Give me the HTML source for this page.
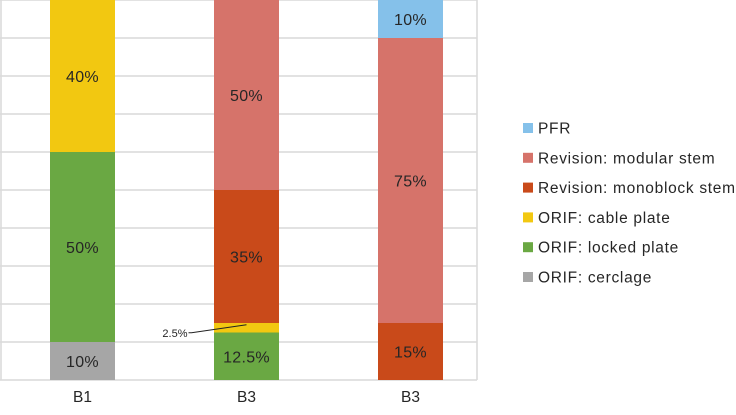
<!DOCTYPE html>
<html><head><meta charset="utf-8"><style>
body{margin:0;background:#fff;font-family:"Liberation Sans",Arial,sans-serif}
</style></head><body>
<svg id="chart" width="736" height="410" font-family="Liberation Sans, Arial, sans-serif"></svg>
<script>
const categories=["B1","B3","B3"];
const seriesNames=["ORIF: cerclage","ORIF: locked plate","ORIF: cable plate","Revision: monoblock stem","Revision: modular stem","PFR"];
const seriesColors=["#a6a6a6","#6aa843","#f2c811","#c94a1a","#d6736a","#85c1ea"];
const cerclage=[10,0,0];
const locked=[50,12.5,0];
const cable=[40,2.5,0];
const monoblock=[0,35,15];
const modular=[0,50,75];
const pfr=[0,0,10];
const series=[cerclage,locked,cable,monoblock,modular,pfr];
const NS="http://www.w3.org/2000/svg";
const svg=document.getElementById('chart');
const x0=0,x1=477,yTop=0,yBase=380;
const y=v=>yBase-(v/100)*(yBase-yTop);
const barW=65;
const cx=i=>82.5+164*i;
function mk(t,a){const e=document.createElementNS(NS,t);for(const k in a)e.setAttribute(k,a[k]);svg.appendChild(e);return e;}
for(let t=0;t<=100;t+=10){const g=mk('line',{x1:x0,x2:x1,y1:y(t),y2:y(t),stroke:'#d9d9d9','stroke-width':1.5});

}
const la=mk('line',{x1:1,x2:1,y1:0,y2:380,stroke:'#d9d9d9','stroke-width':1.5});

const ra=mk('line',{x1:x1,x2:x1,y1:0,y2:380,stroke:'#d9d9d9','stroke-width':1.5});

categories.forEach((c,i)=>{
 let acc=0;
 series.forEach((s,k)=>{
  const v=s[i]; if(!v)return;
  const r=mk('rect',{x:cx(i)-barW/2,y:y(acc+v),width:barW,height:y(acc)-y(acc+v),fill:seriesColors[k]});
  
  
  const mid=(y(acc)+y(acc+v))/2;
  if(v>=5){const t=mk('text',{x:cx(i),y:mid+6,'text-anchor':'middle','font-size':16,'letter-spacing':0.3,fill:'#262626'});t.textContent=v+'%';
   }
  else{const l=mk('polyline',{points:`${cx(i)} ${mid-3} ${cx(i)-55} ${mid+5} ${cx(i)-58} ${mid+5}`,fill:'none',stroke:'#222','stroke-width':1});
   
   const t=mk('text',{x:cx(i)-59,y:mid+9,'text-anchor':'end','font-size':11,fill:'#262626'});t.textContent=v+'%';
   }
  acc+=v;
 });
 const xl=mk('text',{x:cx(i),y:402,'text-anchor':'middle','font-size':15.5,fill:'#262626'});xl.textContent=c;
 
});
for(let k=seriesNames.length-1,row=0;k>=0;k--,row++){
 const yy=128+row*29.8;
 const sq=mk('rect',{x:523,y:yy-5,width:10,height:10,fill:seriesColors[k]});
 
 const t=mk('text',{x:538,y:yy+5.5,'font-size':15.5,'letter-spacing':0.7,fill:'#262626'});t.textContent=seriesNames[k];
 
}
</script>
</body></html>
